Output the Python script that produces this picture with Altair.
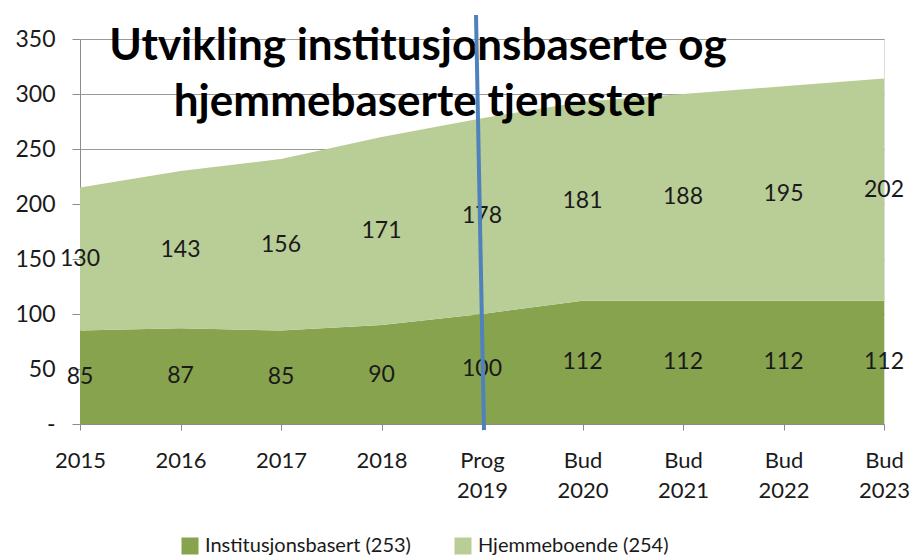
import altair as alt
import pandas as pd

categories = ["2015", "2016", "2017", "2018", "Prog 2019", "Bud 2020", "Bud 2021", "Bud 2022", "Bud 2023"]
institusjon = [85, 87, 85, 90, 100, 112, 112, 112, 112]
hjemme = [130, 143, 156, 171, 178, 181, 188, 195, 202]
series_names = ["Institusjonsbasert (253)", "Hjemmeboende (254)"]
colors = ["#87a34d", "#b9cd96"]
title_lines = ["Utvikling institusjonsbaserte og", "hjemmebaserte tjenester"]
y_ticks = [0, 50, 100, 150, 200, 250, 300, 350]
marker_category = ["Prog 2019"]

rows = []
for i, c in enumerate(categories):
    rows.append({"cat": c, "series": series_names[0], "value": institusjon[i], "order": 0})
    rows.append({"cat": c, "series": series_names[1], "value": hjemme[i], "order": 1})
df = pd.DataFrame(rows)

W, H = 804, 385
FONT = "Lato"
TXT = "#1a1a1a"
AX = "#8c8c8c"

x_scale = alt.Scale(type="point", padding=0)
y_scale = alt.Scale(domain=[0, 350], nice=False)

x_enc = alt.X(
    "cat:N", sort=categories, scale=x_scale,
    axis=alt.Axis(title=None, labelExpr="split(datum.label, ' ')", labelAngle=0,
                  labelFont=FONT, labelFontSize=22, labelColor=TXT, labelLineHeight=30,
                  labelPadding=20, tickSize=6, tickColor=AX, domainColor=AX, grid=False),
)

area = alt.Chart(df).mark_area(opacity=1).encode(
    x=x_enc,
    y=alt.Y("value:Q", stack="zero", scale=y_scale,
            axis=alt.Axis(title=None, values=y_ticks,
                          labelExpr="datum.value == 0 ? '-' : datum.label",
                          labelFont=FONT, labelFontSize=23, labelColor=TXT,
                          tickSize=8, labelPadding=17, tickColor=AX, domainColor=AX,
                          grid=True, gridColor="#9a9a9a", gridWidth=1)),
    color=alt.Color("series:N", scale=alt.Scale(domain=series_names, range=colors),
                    legend=alt.Legend(title=None, orient="none", legendX=100, legendY=497,
                                      direction="horizontal", symbolType="square",
                                      symbolSize=289, symbolStrokeWidth=0, symbolOpacity=1,
                                      labelFont=FONT, labelFontSize=20, labelColor=TXT,
                                      columnPadding=42, labelOffset=5, labelLimit=400)),
    order=alt.Order("order:Q"),
)

labels = alt.Chart(df).transform_stack(
    stack="value", as_=["v0", "v1"], groupby=["cat"],
    sort=[alt.SortField("order", order="ascending")],
).transform_calculate(mid="(datum.v0 + datum.v1) / 2").mark_text(
    font=FONT, fontSize=23, color=TXT, baseline="middle"
).encode(
    x=alt.X("cat:N", sort=categories, scale=x_scale),
    y=alt.Y("mid:Q", scale=y_scale),
    text="value:Q",
)

title = alt.Chart(pd.DataFrame({"a": [0]})).mark_text(
    text=title_lines, font=FONT, fontSize=44, fontWeight="bold", align="center",
    baseline="alphabetic", lineHeight=56, color="#000000",
).encode(x=alt.value(338), y=alt.value(21))

rule = alt.Chart(pd.DataFrame({"cat": marker_category})).mark_rule(
    color="#4f81bd", strokeWidth=4, xOffset=-6, x2Offset=2,
).encode(
    x=alt.X("cat:N", sort=categories, scale=x_scale),
    x2="cat:N",
    y=alt.value(-24),
    y2=alt.value(H + 6),
)

chart = alt.layer(area, labels, title, rule).properties(
    width=W, height=H,
    autosize=alt.AutoSizeParams(type="none"),
    padding={"left": 72, "top": 31, "right": 28, "bottom": 133},
).configure_view(stroke=None).configure(background="white")

chart.save("out.html", embed_options={"renderer": "svg", "actions": False})
